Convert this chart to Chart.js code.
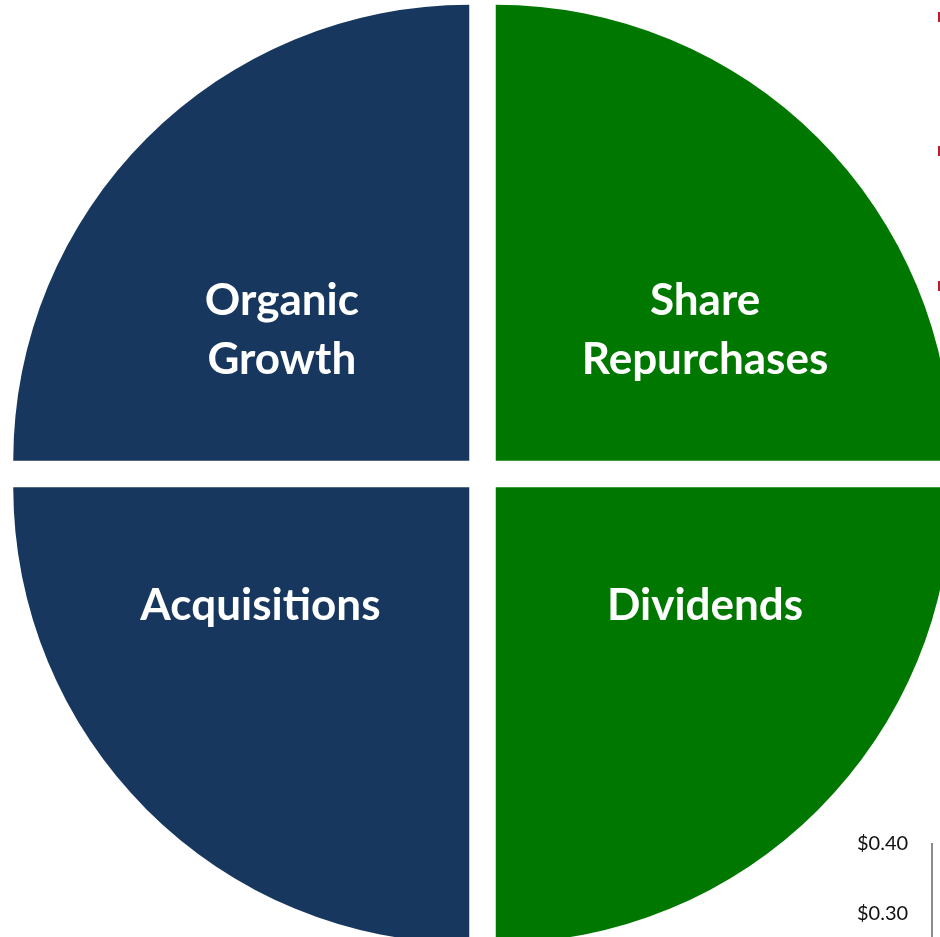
<!DOCTYPE html>
<html>
<head>
<meta charset="utf-8">
<script src="https://cdn.jsdelivr.net/npm/chart.js@4"></script>
<style>
  html, body { margin: 0; padding: 0; background: #fff; overflow: hidden; }
  body { width: 940px; height: 937px; position: relative; font-family: Lato, sans-serif; }
  .wrap { position: absolute; left: 0; top: 0; width: 965px; height: 948px; }
  .tick { position: absolute; left: 857px; font-size: 20px; color: #111; line-height: 1; }
  .axis { position: absolute; left: 931px; top: 843px; width: 2px; height: 94px; background: #8c8c8c; }
  .mark { position: absolute; left: 938px; width: 3px; background: #b3202e; }
</style>
</head>
<body>
<div class="wrap"><canvas id="myChart"></canvas></div>
<div class="tick" style="top:832px">$0.40</div>
<div class="tick" style="top:902px">$0.30</div>
<div class="axis"></div>
<div class="mark" style="top:12px;height:10px"></div>
<div class="mark" style="top:146px;height:10px"></div>
<div class="mark" style="top:281px;height:10px"></div>
<script>
// clockwise from 12 o'clock
let categories = [["Share", "Repurchases"], ["Dividends"], ["Acquisitions"], ["Organic", "Growth"]];
let shares = [25, 25, 25, 25];
let sliceColors = ["#007800", "#007800", "#17375E", "#17375E"];

// label placement, as fraction of the radius from the pie centre
let labelPos = [[0.488, -0.316], [0.488, 0.288], [-0.487, 0.288], [-0.44, -0.316]];

const sliceLabels = {
  id: 'sliceLabels',
  afterDatasetsDraw(chart) {
    const ctx = chart.ctx;
    const arcs = chart.getDatasetMeta(0).data;
    ctx.save();
    ctx.fillStyle = '#fff';
    ctx.font = 'bold 44px Lato';
    ctx.textAlign = 'center';
    ctx.textBaseline = 'middle';
    arcs.forEach((arc, i) => {
      const {x, y, outerRadius} = arc.getProps(['x', 'y', 'outerRadius'], true);
      const lines = categories[i];
      const lx = x + labelPos[i][0] * outerRadius;
      const ly = y + labelPos[i][1] * outerRadius;
      const lh = 59;
      lines.forEach((t, j) => {
        ctx.fillText(t, lx, ly + (j - (lines.length - 1) / 2) * lh);
      });
    });
    ctx.restore();
  }
};

// chart.js moves an arc by offset/4 along its bisector
let pieChart = new Chart(document.getElementById('myChart').getContext('2d'), {
  type: 'pie',
  data: {
    labels: categories.map(c => c.join(' ')),
    datasets: [{
      data: shares,
      backgroundColor: sliceColors,
      borderWidth: 0,
      offset: 75,
      hoverOffset: 75
    }]
  },
  options: {
    responsive: true,
    maintainAspectRatio: false,
    animation: false,
    radius: 456,
    layout: { padding: 0 },
    plugins: {
      legend: { display: false },
      tooltip: { enabled: false }
    }
  },
  plugins: [sliceLabels]
})
</script>
</body>
</html>
